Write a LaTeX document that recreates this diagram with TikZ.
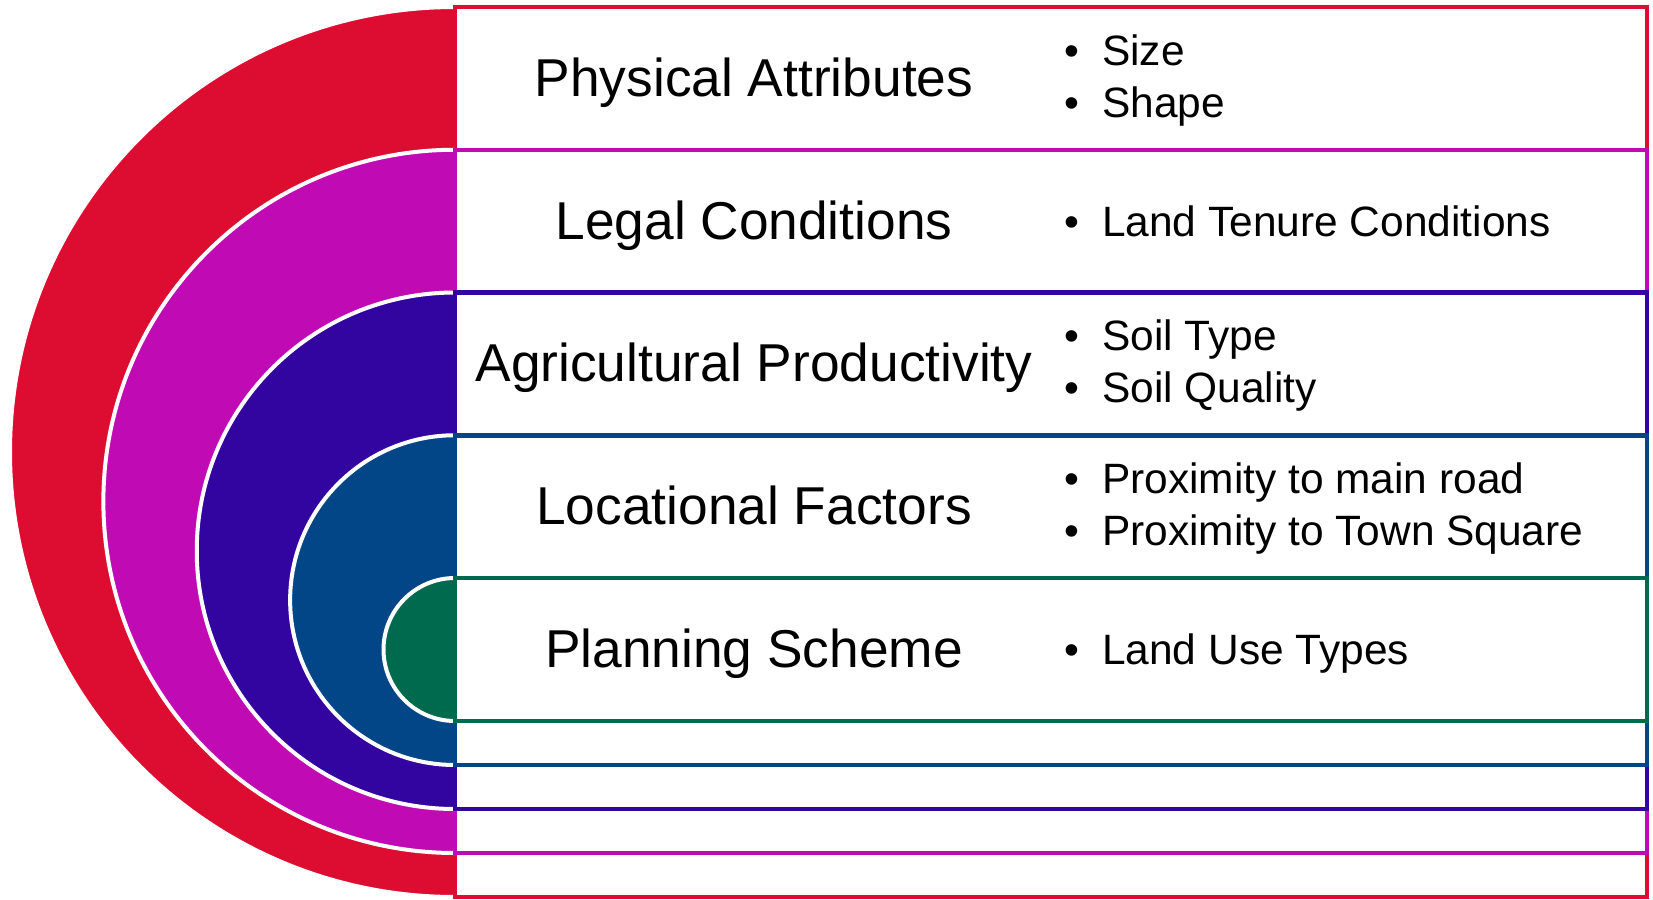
\documentclass[tikz,border=0pt]{standalone}
\usepackage{fontspec}
\setmainfont{Liberation Sans}
\definecolor{cRed}{RGB}{220,13,48}
\definecolor{cMag}{RGB}{192,11,180}
\definecolor{cPur}{RGB}{50,4,160}
\definecolor{cBlu}{RGB}{3,70,136}
\definecolor{cGrn}{RGB}{0,106,78}
\begin{document}
\begin{tikzpicture}[x=1bp,y=-1bp,
  band/.style={fill=white, line width=4.5bp},
  halfedge/.style={draw=white, line width=4bp},
  title/.style={anchor=base, inner sep=0pt, font=\fontsize{53.5}{64}\selectfont},
  item/.style={anchor=base west, inner sep=0pt, font=\fontsize{42.6}{52}\selectfont}]
\useasboundingbox (0,0) rectangle (1653,899);
\foreach \ya/\yb/\cl in {7/897/cRed, 149.75/853/cMag, 292.5/809/cPur, 435.25/765/cBlu, 578/721/cGrn} {
  \pgfmathsetmacro\rr{(\yb-\ya)/2}
  \fill[\cl] (455,\ya) arc[start angle=270,end angle=90,radius=\rr] -- cycle;
  \draw[halfedge] (455,\ya) arc[start angle=270,end angle=90,radius=\rr];
  \draw[band, draw=\cl] (455,\ya) rectangle (1647,\yb);
}
% titles
\node[title] (t1) at (754,96.4) {Physical Attributes};
\node[title] (t2) at (754,239.1) {Legal Conditions};
\node[title] (t3) at (754,381.9) {Agricultural Productivity};
\node[title] (t4) at (754,524.6) {Locational Factors};
\node[title] (t5) at (754,667.4) {Planning Scheme};
% bullet items
\node[item] (b1a) at (1064,65) {\makebox[38bp][l]{•}Size};
\node[item] (b1b) at (1064,117) {\makebox[38bp][l]{•}Shape};
\node[item] (b2a) at (1064,236) {\makebox[38bp][l]{•}Land Tenure Conditions};
\node[item] (b3a) at (1064,350.4) {\makebox[38bp][l]{•}Soil Type};
\node[item] (b3b) at (1064,402.4) {\makebox[38bp][l]{•}Soil Quality};
\node[item] (b4a) at (1064,493) {\makebox[38bp][l]{•}Proximity to main road};
\node[item] (b4b) at (1064,545) {\makebox[38bp][l]{•}Proximity to Town Square};
\node[item] (b5a) at (1064,664) {\makebox[38bp][l]{•}Land Use Types};
\end{tikzpicture}
\end{document}
